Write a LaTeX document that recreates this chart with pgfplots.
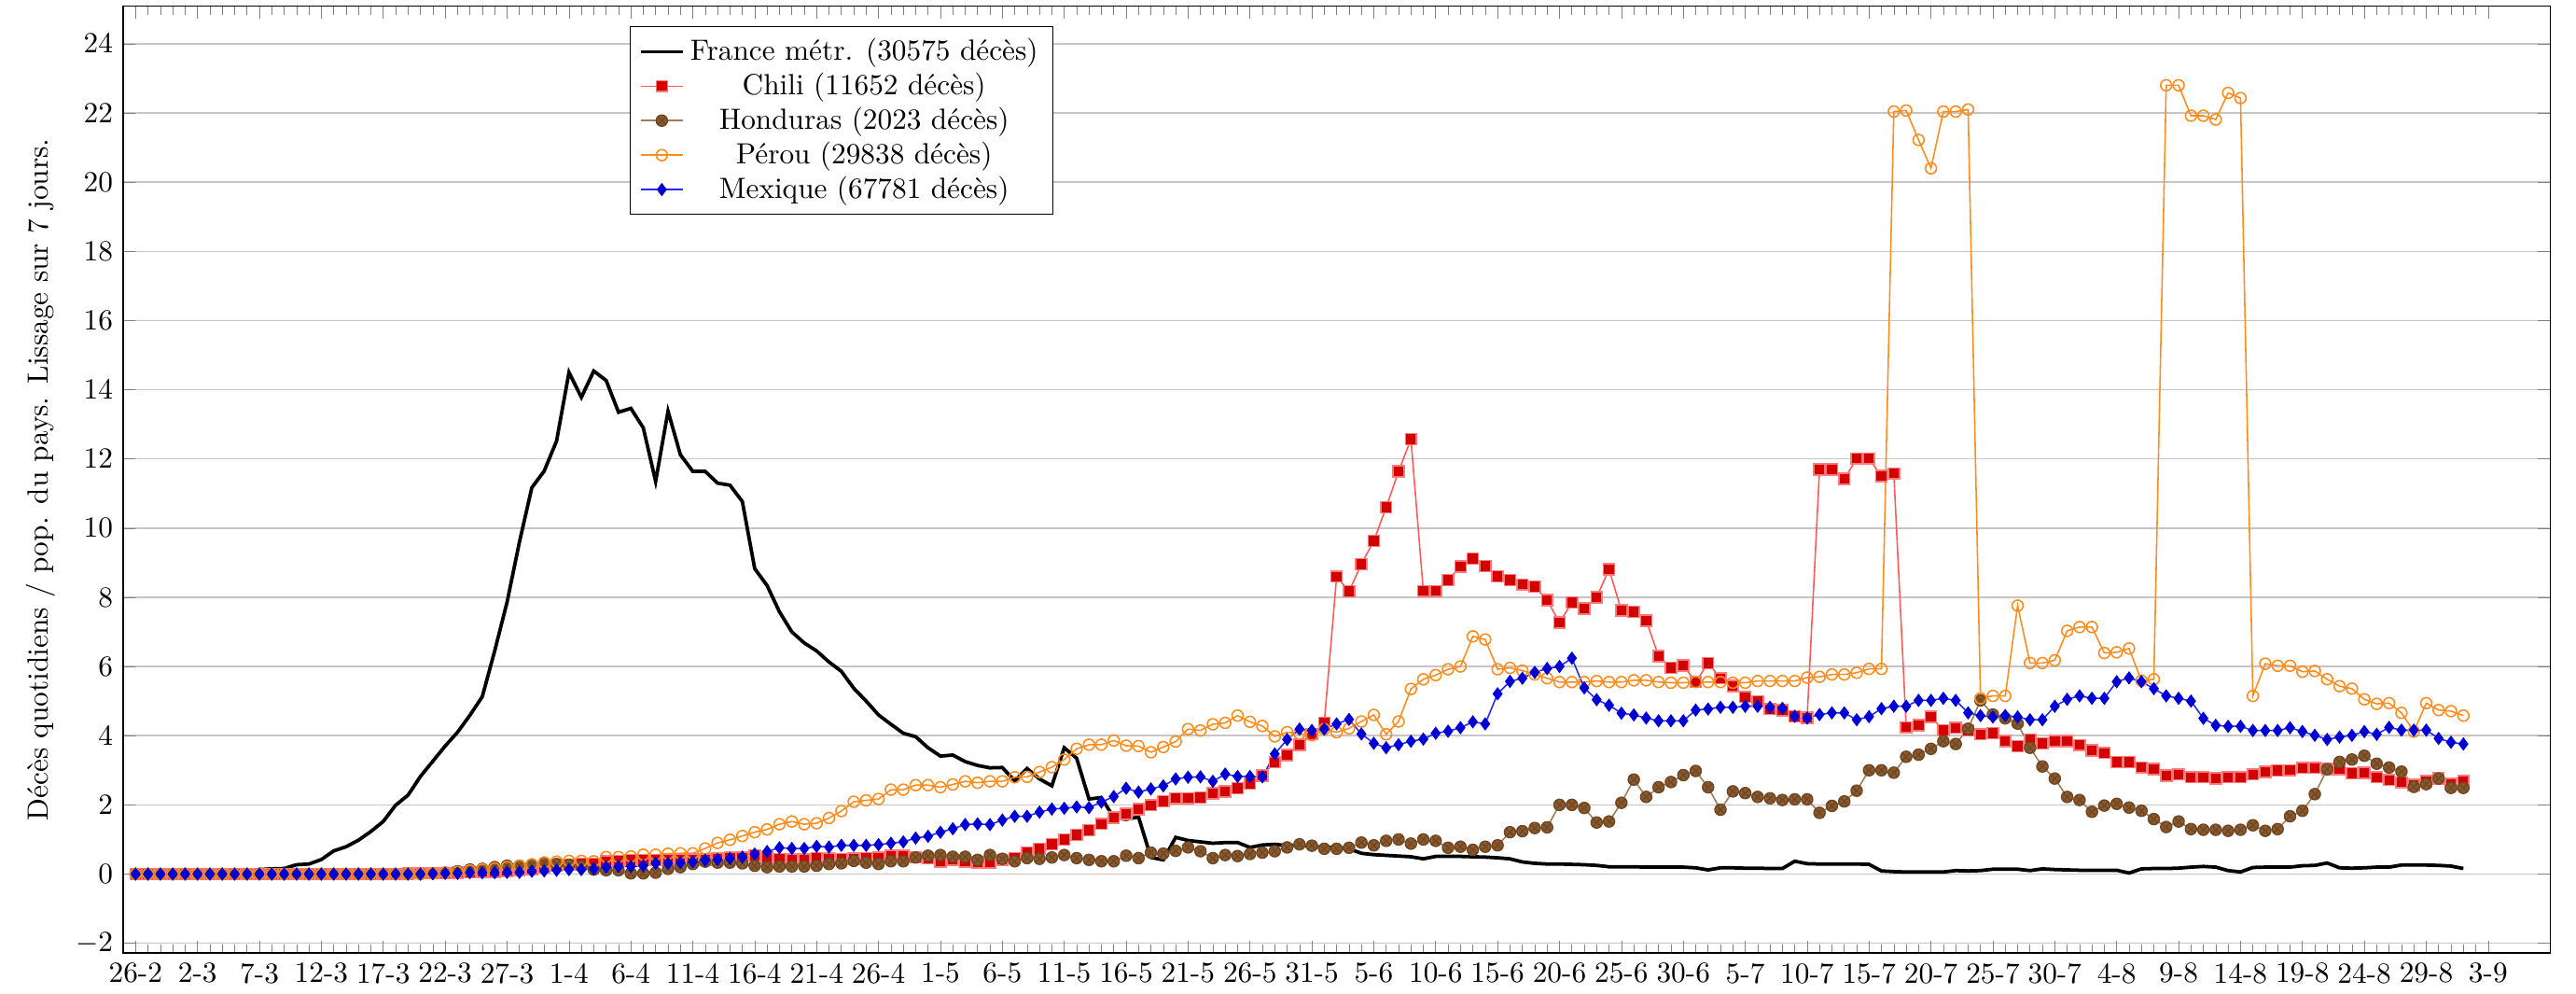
\documentclass[border=0pt]{standalone}
\usepackage{pgfplots}
\pgfplotsset{compat=1.18}
\usepackage{pgfplotstable}
\definecolor{clline}{RGB}{255,90,90}
\definecolor{clfill}{RGB}{210,0,0}
\definecolor{hnline}{RGB}{160,125,90}
\definecolor{hnfill}{RGB}{140,90,45}
\definecolor{peline}{RGB}{255,140,30}
\definecolor{mxline}{RGB}{40,40,255}
\definecolor{mxfill}{RGB}{0,0,210}

\pgfplotstableread{
d fr cl hn pe mx
0 0 0 0 0 0
1 0 0 0 0 0
2 0 0 0 0 0
3 0 0 0 0 0
4 0 0 0 0 0
5 0 0 0 0 0
6 0 0 0 0 0
7 0 0 0 0 0
8 0.02 0 0 0 0
9 0.08 0 0 0 0
10 0.13 0 0 0 0
11 0.15 0 0 0 0
12 0.16 0 0 0 0
13 0.27 0 0 0 0
14 0.29 0 0 0 0
15 0.42 0 0 0 0
16 0.67 0 0 0 0
17 0.79 0 0 0 0
18 0.98 0 0 0 0
19 1.23 0 0 0 0
20 1.52 0 0 0 0
21 1.99 0 0 0 0
22 2.28 0.01 0 0 0
23 2.82 0.02 0 0 0
24 3.26 0.02 0.02 0.02 0.01
25 3.70 0.03 0.04 0.04 0.02
26 4.10 0.04 0.08 0.06 0.02
27 4.59 0.05 0.13 0.10 0.04
28 5.13 0.06 0.15 0.13 0.04
29 6.45 0.07 0.20 0.16 0.04
30 7.86 0.09 0.24 0.20 0.05
31 9.60 0.12 0.24 0.24 0.05
32 11.17 0.15 0.27 0.28 0.08
33 11.65 0.20 0.33 0.33 0.09
34 12.52 0.25 0.29 0.36 0.11
35 14.50 0.27 0.27 0.38 0.13
36 13.78 0.30 0.22 0.38 0.13
37 14.54 0.30 0.13 0.37 0.15
38 14.27 0.36 0.11 0.49 0.20
39 13.35 0.38 0.11 0.49 0.22
40 13.46 0.40 0.02 0.51 0.22
41 12.90 0.40 0.02 0.56 0.24
42 11.35 0.40 0.04 0.56 0.31
43 13.38 0.40 0.15 0.59 0.31
44 12.12 0.41 0.20 0.60 0.33
45 11.64 0.42 0.29 0.60 0.35
46 11.64 0.42 0.36 0.74 0.40
47 11.30 0.45 0.33 0.90 0.42
48 11.24 0.47 0.33 0.99 0.45
49 10.77 0.48 0.31 1.10 0.49
50 8.83 0.54 0.24 1.21 0.58
51 8.34 0.47 0.20 1.29 0.65
52 7.58 0.43 0.22 1.44 0.76
53 7.00 0.42 0.22 1.52 0.74
54 6.68 0.42 0.22 1.44 0.74
55 6.45 0.46 0.24 1.47 0.80
56 6.13 0.45 0.29 1.62 0.78
57 5.86 0.43 0.31 1.82 0.83
58 5.37 0.45 0.38 2.09 0.83
59 5.00 0.46 0.33 2.13 0.83
60 4.60 0.48 0.29 2.17 0.85
61 4.33 0.53 0.37 2.44 0.89
62 4.07 0.53 0.37 2.44 0.93
63 3.97 0.48 0.48 2.57 1.04
64 3.65 0.46 0.53 2.57 1.09
65 3.41 0.37 0.55 2.51 1.21
66 3.44 0.41 0.50 2.59 1.31
67 3.25 0.37 0.50 2.68 1.43
68 3.14 0.34 0.41 2.64 1.45
69 3.07 0.34 0.55 2.68 1.43
70 3.08 0.41 0.44 2.68 1.56
71 2.69 0.46 0.37 2.80 1.67
72 3.05 0.62 0.46 2.81 1.67
73 2.75 0.73 0.44 2.95 1.79
74 2.55 0.86 0.48 3.09 1.88
75 3.65 1.00 0.55 3.31 1.90
76 3.35 1.13 0.46 3.62 1.94
77 2.17 1.27 0.41 3.74 1.92
78 2.21 1.45 0.37 3.74 2.08
79 1.63 1.63 0.37 3.86 2.24
80 1.58 1.74 0.53 3.71 2.48
81 1.65 1.87 0.46 3.70 2.37
82 0.48 1.99 0.62 3.52 2.46
83 0.41 2.10 0.59 3.67 2.55
84 1.06 2.19 0.67 3.83 2.75
85 0.97 2.19 0.77 4.19 2.80
86 0.93 2.21 0.66 4.15 2.81
87 0.89 2.33 0.46 4.33 2.68
88 0.91 2.39 0.55 4.37 2.89
89 0.91 2.48 0.52 4.58 2.82
90 0.77 2.62 0.58 4.40 2.82
91 0.84 2.84 0.62 4.28 2.81
92 0.86 3.23 0.66 3.98 3.47
93 0.82 3.44 0.77 4.10 3.89
94 0.84 3.74 0.86 4.06 4.19
95 0.80 4.04 0.82 4.01 4.15
96 0.77 4.37 0.73 4.19 4.19
97 0.77 8.60 0.73 4.10 4.34
98 0.73 8.17 0.76 4.21 4.47
99 0.60 8.96 0.91 4.41 4.05
100 0.56 9.63 0.83 4.60 3.78
101 0.54 10.60 0.96 4.04 3.65
102 0.52 11.64 1.00 4.41 3.74
103 0.50 12.57 0.88 5.35 3.84
104 0.44 8.18 1.00 5.63 3.90
105 0.51 8.18 0.96 5.75 4.07
106 0.51 8.50 0.76 5.92 4.13
107 0.51 8.89 0.79 6.00 4.23
108 0.50 9.12 0.70 6.87 4.40
109 0.49 8.90 0.79 6.78 4.34
110 0.47 8.61 0.83 5.92 5.21
111 0.44 8.50 1.21 5.96 5.57
112 0.35 8.37 1.24 5.88 5.66
113 0.31 8.31 1.33 5.77 5.83
114 0.29 7.92 1.35 5.66 5.94
115 0.29 7.27 2.00 5.55 6.00
116 0.28 7.85 2.00 5.55 6.24
117 0.27 7.67 1.91 5.55 5.38
118 0.25 8.00 1.49 5.58 5.04
119 0.21 8.81 1.52 5.55 4.88
120 0.21 7.62 2.06 5.55 4.65
121 0.21 7.58 2.73 5.60 4.60
122 0.20 7.33 2.23 5.60 4.51
123 0.20 6.30 2.51 5.55 4.43
124 0.20 5.96 2.66 5.53 4.43
125 0.20 6.03 2.86 5.53 4.43
126 0.18 5.55 2.98 5.55 4.74
127 0.12 6.10 2.51 5.55 4.77
128 0.18 5.66 1.86 5.55 4.82
129 0.18 5.44 2.39 5.53 4.82
130 0.17 5.12 2.34 5.53 4.85
131 0.17 4.99 2.23 5.58 4.85
132 0.16 4.77 2.19 5.58 4.82
133 0.16 4.74 2.14 5.58 4.79
134 0.37 4.56 2.16 5.58 4.56
135 0.30 4.52 2.16 5.68 4.51
136 0.29 11.70 1.77 5.70 4.61
137 0.29 11.70 1.97 5.77 4.66
138 0.29 11.42 2.10 5.77 4.66
139 0.29 12.01 2.41 5.82 4.46
140 0.28 12.01 3.00 5.93 4.55
141 0.09 11.50 3.00 5.93 4.78
142 0.07 11.58 2.93 22.04 4.85
143 0.06 4.24 3.39 22.07 4.85
144 0.06 4.30 3.45 21.22 5.02
145 0.06 4.55 3.62 20.40 5.02
146 0.06 4.15 3.84 22.04 5.08
147 0.10 4.23 3.76 22.04 5.02
148 0.09 4.15 4.20 22.10 4.66
149 0.10 4.04 5.02 5.08 4.58
150 0.14 4.07 4.61 5.15 4.54
151 0.14 3.84 4.50 5.15 4.58
152 0.14 3.70 4.35 7.76 4.54
153 0.10 3.89 3.65 6.10 4.46
154 0.15 3.78 3.11 6.10 4.46
155 0.13 3.84 2.76 6.18 4.85
156 0.12 3.84 2.23 7.03 5.05
157 0.11 3.73 2.14 7.14 5.15
158 0.11 3.58 1.80 7.14 5.08
159 0.11 3.50 1.98 6.39 5.08
160 0.11 3.24 2.03 6.41 5.56
161 0.03 3.24 1.92 6.52 5.67
162 0.15 3.08 1.83 5.59 5.56
163 0.16 3.03 1.59 5.63 5.36
164 0.16 2.85 1.36 22.80 5.15
165 0.17 2.88 1.52 22.80 5.08
166 0.20 2.80 1.30 21.92 5.00
167 0.22 2.80 1.28 21.92 4.50
168 0.20 2.76 1.28 21.81 4.30
169 0.10 2.80 1.25 22.58 4.27
170 0.06 2.80 1.28 22.43 4.27
171 0.19 2.88 1.41 5.15 4.15
172 0.20 2.96 1.25 6.08 4.15
173 0.20 2.99 1.30 6.02 4.15
174 0.20 3.00 1.67 6.02 4.23
175 0.24 3.07 1.83 5.85 4.12
176 0.25 3.07 2.31 5.87 4.01
177 0.32 3.03 3.03 5.63 3.89
178 0.18 3.03 3.24 5.43 3.96
179 0.17 2.91 3.31 5.36 4.01
180 0.18 2.93 3.42 5.05 4.12
181 0.20 2.80 3.19 4.92 4.04
182 0.20 2.72 3.08 4.94 4.24
183 0.26 2.65 2.96 4.66 4.16
184 0.26 2.57 2.52 4.12 4.16
185 0.26 2.68 2.60 4.94 4.16
186 0.25 2.76 2.76 4.74 3.92
187 0.23 2.60 2.49 4.71 3.81
188 0.16 2.69 2.49 4.58 3.76
}\data

\begin{document}
\begin{tikzpicture}
\begin{axis}[
  name=ax,
  scale only axis, width=831pt, height=324pt,
  xmin=-1, xmax=195, ymin=-2.28, ymax=25.08,
  xtick={0,5,...,190},
  xticklabels={26-2,2-3,7-3,12-3,17-3,22-3,27-3,1-4,6-4,11-4,16-4,21-4,26-4,1-5,6-5,11-5,16-5,21-5,26-5,31-5,5-6,10-6,15-6,20-6,25-6,30-6,5-7,10-7,15-7,20-7,25-7,30-7,4-8,9-8,14-8,19-8,24-8,29-8,3-9},
  minor x tick num=4,
  ytick={-2,0,...,24},
  ymajorgrids,
  major grid style={gray!45, line width=0.5pt},
  ylabel={Décès quotidiens / pop. du pays. Lissage sur 7 jours.},
  legend cell align=center,
  legend image code/.code={\draw[mark repeat=2,mark phase=2,#1] plot coordinates {(0cm,0cm) (0.25cm,0cm) (0.5cm,0cm)};},
  legend style={at={(0.2088,0.979)}, anchor=north west, draw=black, fill=white, row sep=-1.2pt},
]
\addplot[black, line width=1.2pt] table[x=d,y=fr]{\data};
\addlegendentry{France métr. (30575 décès)}
\addplot[clline, line width=0.5pt, mark=square*, mark size=1.9pt, mark options={fill=clfill, draw=clline!80}] table[x=d,y=cl]{\data};
\addlegendentry{Chili (11652 décès)}
\addplot[hnline, line width=0.5pt, mark=otimes*, mark size=1.9pt, mark options={fill=hnfill, draw=hnfill!80!black}] table[x=d,y=hn]{\data};
\addlegendentry{Honduras (2023 décès)}
\addplot[peline, line width=0.5pt, mark=o, mark size=1.9pt, mark options={draw=peline}] table[x=d,y=pe]{\data};
\addlegendentry{Pérou (29838 décès)}
\addplot[mxline, line width=0.5pt, mark=diamond*, mark size=1.9pt, mark options={fill=mxfill, draw=mxfill}] table[x=d,y=mx]{\data};
\addlegendentry{Mexique (67781 décès)}
\end{axis}
\path (ax.north east) ++(8.9pt,2.2pt);
\path (ax.south west) ++(-42.2pt,0pt);
\end{tikzpicture}
\end{document}
